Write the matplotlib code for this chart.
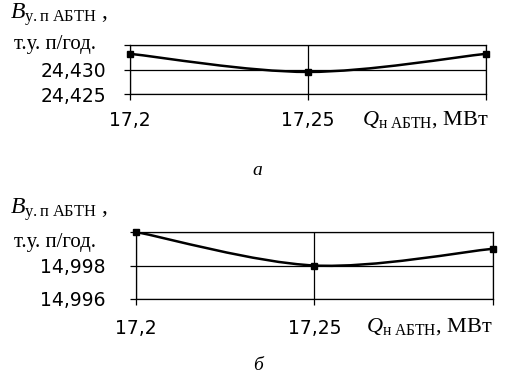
import matplotlib
matplotlib.use("Agg")
import matplotlib.pyplot as plt
from matplotlib.path import Path
from matplotlib.patches import PathPatch

plt.rcParams['mathtext.fontset'] = 'custom'
plt.rcParams['mathtext.rm'] = 'Liberation Serif'
plt.rcParams['mathtext.it'] = 'Liberation Serif:italic'

# Data
q_values = [17.2, 17.25, 17.3]
b_top = [24.4332, 24.4295, 24.4332]
b_bottom = [15.0000, 14.9980, 14.9990]

x_ticks = [17.2, 17.25, 17.3]
x_ticklabels = ['17,2', '17,25', '']
y_ticks_top = [24.425, 24.430, 24.435]
y_ticklabels_top = ['24,425', '24,430', '']
y_ticks_bottom = [14.996, 14.998, 15.000]
y_ticklabels_bottom = ['14,996', '14,998', '']

ylabel_line1 = r"$B_{\mathrm{у.п\ АБТН}}$ ,"
ylabel_line2 = "т.у. п/год."
xlabel = r"$Q_{\mathrm{н\ АБТН}}$, МВт"
captions = ['а', 'б']

W, H = 519, 380
fig = plt.figure(figsize=(W / 100, H / 100), dpi=100)


def smooth_path(xs, ys):
    pts = list(zip(xs, ys))
    n = len(pts)
    verts = [pts[0]]
    codes = [Path.MOVETO]
    for i in range(n - 1):
        p0 = pts[i - 1] if i > 0 else pts[i]
        p1 = pts[i]
        p2 = pts[i + 1]
        p3 = pts[i + 2] if i + 2 < n else pts[i + 1]
        c1 = (p1[0] + (p2[0] - p0[0]) / 6, p1[1] + (p2[1] - p0[1]) / 6)
        c2 = (p2[0] - (p3[0] - p1[0]) / 6, p2[1] - (p3[1] - p1[1]) / 6)
        verts += [c1, c2, p2]
        codes += [Path.CURVE4] * 3
    return Path(verts, codes)


def make_panel(rect, ys, yticks, yticklabels, ypad, xpad, label_y1, label_y2,
               xlabel_pos, caption, caption_pos):
    l, t, r, b = rect
    ax = fig.add_axes([l / W, 1 - b / H, (r - l) / W, (b - t) / H])
    ax.set_xlim(17.2, 17.3)
    ax.set_ylim(yticks[0], yticks[-1])
    ax.set_xticks(x_ticks)
    ax.set_xticklabels(x_ticklabels)
    ax.set_yticks(yticks)
    ax.set_yticklabels(yticklabels)
    ax.grid(True, color='black', linewidth=0.9)
    for s in ax.spines.values():
        s.set_color('black')
        s.set_linewidth(0.9)
    ax.tick_params(axis='y', direction='out', length=4, width=0.9, pad=ypad,
                   labelsize=13.5)
    ax.tick_params(axis='x', direction='out', length=4.5, width=0.9, pad=xpad,
                   labelsize=13.5)
    patch = PathPatch(smooth_path(q_values, ys), facecolor='none',
                      edgecolor='black', linewidth=1.8, zorder=3)
    ax.add_patch(patch)
    ax.plot(q_values, ys, linestyle='none', marker='s', color='black',
            markersize=5, zorder=4, clip_on=False)
    fig.text(10 / W, 1 - label_y1 / H, ylabel_line1, fontsize=17,
             family='Liberation Serif', va='center', ha='left')
    fig.text(14 / W, 1 - label_y2 / H, ylabel_line2, fontsize=15,
             family='Liberation Serif', va='center', ha='left')
    fig.text(xlabel_pos[0] / W, 1 - xlabel_pos[1] / H, xlabel, fontsize=16,
             family='Liberation Serif', va='center', ha='left')
    fig.text(caption_pos[0] / W, 1 - caption_pos[1] / H, caption, fontsize=14,
             family='Liberation Serif', style='italic', va='center', ha='center')
    return ax


make_panel((130, 45, 486, 94), b_top, y_ticks_top, y_ticklabels_top,
           ypad=13, xpad=8, label_y1=15, label_y2=44,
           xlabel_pos=(362, 120), caption='а', caption_pos=(257, 170))
make_panel((136, 232, 493, 299), b_bottom, y_ticks_bottom, y_ticklabels_bottom,
           ypad=18, xpad=10, label_y1=210, label_y2=243,
           xlabel_pos=(366, 327), caption='б', caption_pos=(258, 366))

fig.savefig('out.png', dpi=100)
